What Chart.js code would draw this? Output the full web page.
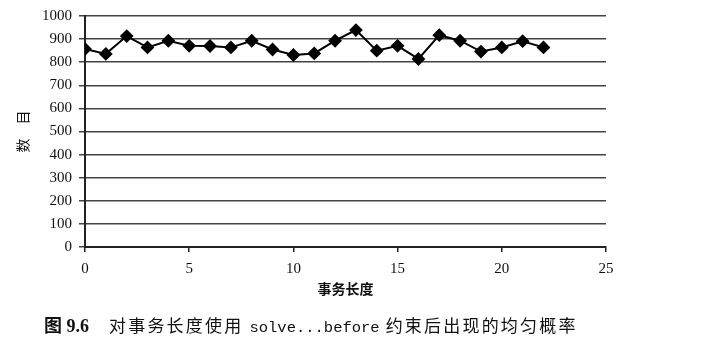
<!DOCTYPE html>
<html>
<head>
<meta charset="utf-8">
<script src="https://cdn.jsdelivr.net/npm/chart.js@4/dist/chart.umd.min.js"></script>
<style>
  body { margin: 0; background: #fff; }
  #wrap { position: relative; width: 706px; height: 352px; }
  #caption {
    position: absolute; left: 44px; top: 313px;
    font-family: "Noto Sans CJK SC", sans-serif; font-size: 17px; color: #111;
    white-space: nowrap; letter-spacing: 2.2px; line-height: 24px;
  }
  #caption b { margin-right: 20px; letter-spacing: 0; font-family: "Liberation Serif", "Noto Sans CJK SC", serif; font-size: 18px; }
  #caption .mono { font-family: "Liberation Mono", monospace; font-size: 15.5px; letter-spacing: 0; }
</style>
</head>
<body>
<div id="wrap">
  <canvas id="chart" width="706" height="352"></canvas>
  <div id="caption"><b>图 9.6</b>对事务长度使用 <span class="mono">solve...before</span> 约束后出现的均匀概率</div>
</div>
<script>
// transaction lengths and counts
const lengths = [0, 1, 2, 3, 4, 5, 6, 7, 8, 9, 10, 11, 12, 13, 14, 15, 16, 17, 18, 19, 20, 21, 22];
const counts = [857, 836, 913, 864, 893, 871, 870, 864, 893, 855, 831, 838, 893, 939, 850, 871, 814, 917, 893, 846, 864, 891, 864];
const xTicks = [0, 5, 10, 15, 20, 25];
const yTicks = [0, 100, 200, 300, 400, 500, 600, 700, 800, 900, 1000];

const points = lengths.map((x, i) => ({ x: x, y: counts[i] }));
const tickFont = { family: 'Liberation Serif', size: 15 };

function renderChart() {
    const ctx = document.getElementById('chart').getContext('2d');
    new Chart(ctx, {
        type: 'line',
        data: {
            datasets: [{
                data: points,
                borderColor: '#000',
                backgroundColor: '#000',
                borderWidth: 2,
                pointStyle: 'rectRot',
                pointRadius: 5.5,
                pointHoverRadius: 5.5,
                tension: 0
            }]
        },
        options: {
            responsive: false,
            animation: false,
            events: [],
            layout: { padding: { top: 13, right: 100, left: 0, bottom: 50 } },
            plugins: { legend: { display: false }, tooltip: { enabled: false } },
            scales: {
                x: {
                    type: 'linear',
                    min: xTicks[0],
                    max: xTicks[xTicks.length - 1],
                    afterBuildTicks: s => { s.ticks = xTicks.map(v => ({ value: v })); },
                    afterFit: s => { s.height = 55; },
                    grid: { drawOnChartArea: false, drawTicks: true, tickLength: 5, color: '#222', lineWidth: 1.5 },
                    border: { color: '#222', width: 2 },
                    ticks: { color: '#111', font: tickFont, padding: 8, maxRotation: 0 },
                    title: {
                        display: true, text: '事务长度', color: '#111',
                        font: { family: 'Noto Sans CJK SC', size: 14, weight: 'bold' },
                        padding: { top: 0, bottom: 5 }
                    }
                },
                y: {
                    min: yTicks[0],
                    max: yTicks[yTicks.length - 1],
                    afterBuildTicks: s => { s.ticks = yTicks.map(v => ({ value: v })); },
                    afterFit: s => { s.width = 85; },
                    grid: { color: '#444', lineWidth: 1.5, tickLength: 6 },
                    border: { color: '#222', width: 2 },
                    ticks: { color: '#111', font: tickFont, padding: 7, callback: v => String(v) },
                    title: {
                        display: true, text: '数　目', color: '#111',
                        font: { family: 'Noto Sans CJK SC', size: 14 },
                        padding: { top: 14, bottom: 0 }
                    }
                }
            }
        }
    });
}

window.onload = function() {
    renderChart();
};
</script>
</body>
</html>
